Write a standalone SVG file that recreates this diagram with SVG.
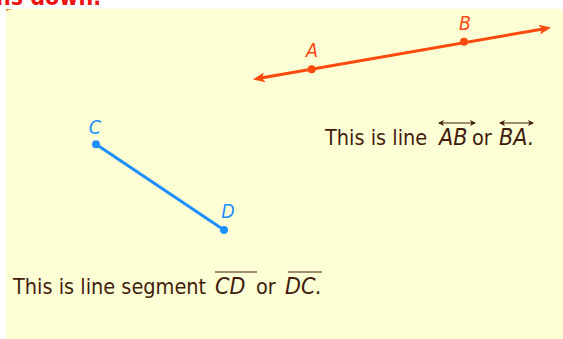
<svg xmlns="http://www.w3.org/2000/svg" width="563" height="339" viewBox="0 0 563 339">
  <style>
    .body { font-family: "DejaVu Sans Condensed", "DejaVu Sans", sans-serif; font-stretch: condensed; font-size: 21.5px; fill: #3f1c0c; }
    .it { font-style: italic; font-size: 23px; }
    .lbl { font-family: "DejaVu Sans Condensed", "DejaVu Sans", sans-serif; font-stretch: condensed; font-style: italic; font-size: 19.5px; }
    .title { font-family: "DejaVu Sans Condensed", "DejaVu Sans", sans-serif; font-stretch: condensed; font-weight: bold; font-size: 23px; fill: #ee1111; }
    .ray { stroke: #ff4a0e; stroke-width: 3; fill: none; }
    .seg { stroke: #1e8fff; stroke-width: 3; fill: none; stroke-linecap: round; }
    .bar { stroke: #3f1c0c; stroke-width: 1.2; fill: none; }
  </style>
  <defs>
    <marker id="head" viewBox="0 0 12 10" refX="4" refY="5" markerWidth="12" markerHeight="10" markerUnits="userSpaceOnUse" orient="auto-start-reverse">
      <path d="M0,0 L12,5 L0,10 L3,5 z" fill="#ff4a0e"/>
    </marker>
    <marker id="small" viewBox="0 0 6 6" refX="5" refY="3" markerWidth="6" markerHeight="6" markerUnits="userSpaceOnUse" orient="auto-start-reverse">
      <path d="M0,0 L6,3 L0,6 L1.5,3 z" fill="#3f1c0c"/>
    </marker>
  </defs>

  <rect x="0" y="0" width="563" height="339" fill="#ffffff"/>
  <text class="title" x="-4" y="5">ns down.</text>
  <rect x="6" y="9" width="557" height="330" fill="#ffffd6"/>
  <path d="M6,9 L12,9 L6,11 z" fill="#f08a30"/>

  <g id="connectors">
    <line id="lineAB" class="ray" x1="260.9" y1="78.1" x2="543.1" y2="28.9" marker-start="url(#head)" marker-end="url(#head)"/>
    <line id="segCD" class="seg" x1="96" y1="144.3" x2="224" y2="230"/>
  </g>

  <g id="nodeA">
    <circle cx="311.7" cy="69.2" r="4" fill="#ff4a0e"/>
    <text class="lbl" x="312" y="57" text-anchor="middle" fill="#ff4a0e">A</text>
  </g>
  <g id="nodeB">
    <circle cx="464" cy="41.7" r="4" fill="#ff4a0e"/>
    <text class="lbl" x="465" y="30" text-anchor="middle" fill="#ff4a0e">B</text>
  </g>
  <g id="nodeC">
    <circle cx="96" cy="144.3" r="4" fill="#1e8fff"/>
    <text class="lbl" x="95" y="134" text-anchor="middle" fill="#1e8fff">C</text>
  </g>
  <g id="nodeD">
    <circle cx="224" cy="230" r="4" fill="#1e8fff"/>
    <text class="lbl" x="228" y="218" text-anchor="middle" fill="#1e8fff">D</text>
  </g>

  <g id="captionLine">
    <text class="body" y="145"><tspan x="325">This is line </tspan><tspan class="it" x="439">AB</tspan><tspan x="472">or</tspan><tspan class="it" x="499">BA.</tspan></text>
    <line class="bar" x1="439" y1="123" x2="475" y2="123" marker-start="url(#small)" marker-end="url(#small)"/>
    <line class="bar" x1="500" y1="123" x2="533" y2="123" marker-start="url(#small)" marker-end="url(#small)"/>
  </g>

  <g id="captionSegment">
    <text class="body" y="294"><tspan x="13">This is line segment </tspan><tspan class="it" x="215">CD</tspan><tspan x="256">or</tspan><tspan class="it" x="285">DC.</tspan></text>
    <line class="bar" x1="215" y1="272" x2="257" y2="272"/>
    <line class="bar" x1="288" y1="272" x2="322" y2="272"/>
  </g>
</svg>
